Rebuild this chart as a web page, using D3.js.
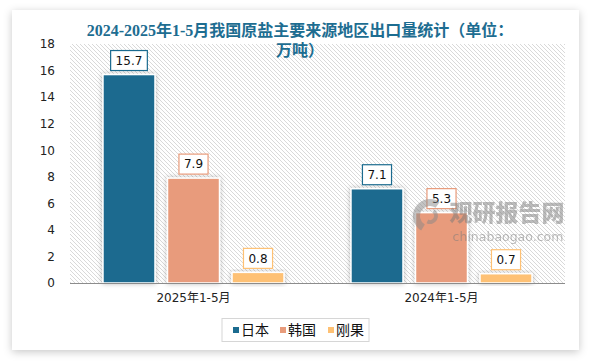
<!DOCTYPE html>
<html>
<head>
<meta charset="utf-8">
<script src="https://cdn.jsdelivr.net/npm/d3@7/dist/d3.min.js"></script>
<style>
  html, body { margin: 0; padding: 0; background: #ffffff; }
  svg { display: block; }
</style>
</head>
<body>
<div id="chart"></div>
<script>
"use strict";

const TITLE_LINES = ["2024-2025年1-5月我国原盐主要来源地区出口量统计（单位：", "万吨）"];
const PERIODS = ["2025年1-5月", "2024年1-5月"];
const SERIES = ["日本", "韩国", "刚果"];
const SERIES_COLORS = ["#1b6b8f", "#e89b7b", "#fec174"];
const JAPAN = [15.7, 7.1];
const KOREA = [7.9, 5.3];
const CONGO = [0.8, 0.7];
const Y_TICKS = [0, 2, 4, 6, 8, 10, 12, 14, 16, 18];

const W = 590, H = 361;
const plot = { left: 70, right: 565, top: 44, bottom: 283 };

const values = [JAPAN, KOREA, CONGO];
const rows = [];
PERIODS.forEach(function eachPeriod(period, pi) {
  SERIES.forEach(function eachSeries(name, si) {
    rows.push({ period: period, series: name, value: values[si][pi], color: SERIES_COLORS[si] });
  });
});

const svg = d3.select("#chart").append("svg").attr("width", W).attr("height", H);
const defs = svg.append("defs");

const cardShadow = defs.append("filter").attr("id", "cardShadow").attr("x", "-10%").attr("y", "-10%").attr("width", "120%").attr("height", "120%");
cardShadow.append("feDropShadow").attr("dx", 0).attr("dy", 2).attr("stdDeviation", 4).attr("flood-color", "#000").attr("flood-opacity", 0.22);

const barShadow = defs.append("filter").attr("id", "barShadow").attr("x", "-30%").attr("y", "-30%").attr("width", "160%").attr("height", "160%");
barShadow.append("feDropShadow").attr("dx", 0).attr("dy", 0).attr("stdDeviation", 2.5).attr("flood-color", "#000").attr("flood-opacity", 0.28);

const hatch = defs.append("pattern").attr("id", "hatch").attr("patternUnits", "userSpaceOnUse").attr("width", 4).attr("height", 4);
hatch.append("rect").attr("width", 4).attr("height", 4).attr("fill", "#ffffff");
hatch.append("path").attr("d", "M-1,-1 L5,5 M-1,3 L1,5 M3,-1 L5,1").attr("stroke", "#d9d9d9").attr("stroke-width", 1);

// card
svg.append("rect").attr("x", 12).attr("y", 10).attr("width", 567).attr("height", 340).attr("fill", "#ffffff").attr("filter", "url(#cardShadow)");

// scales
const x0 = d3.scaleBand().domain(PERIODS).range([plot.left, plot.right]).paddingInner(0.27).paddingOuter(0.133);
const x1 = d3.scaleBand().domain(SERIES).range([0, x0.bandwidth()]).paddingInner(0.194).paddingOuter(0);
const y = d3.scaleLinear().domain([0, 18]).range([plot.bottom, plot.top]);

// plot background
svg.append("rect").attr("x", plot.left).attr("y", plot.top).attr("width", plot.right - plot.left).attr("height", plot.bottom - plot.top).attr("fill", "url(#hatch)");

// y axis
const yAxis = svg.append("g").attr("transform", "translate(" + (plot.left - 15) + ",0)").call(d3.axisLeft(y).tickValues(Y_TICKS).tickSize(0).tickPadding(0));
yAxis.select(".domain").remove();
yAxis.selectAll("text").attr("font-family", "Tahoma, 'DejaVu Sans', sans-serif").attr("font-size", 12).attr("fill", "#222");

// bars
const groups = svg.append("g").selectAll("g").data(PERIODS).join("g").attr("transform", function gx(p) { return "translate(" + x0(p) + ",0)"; });
groups.selectAll("rect").data(function periodRows(p) { return rows.filter(function f(r) { return r.period === p; }); }).join("rect")
  .attr("x", function bx(d) { return x1(d.series); })
  .attr("y", function by(d) { return y(d.value); })
  .attr("width", x1.bandwidth())
  .attr("height", function bh(d) { return y(0) - y(d.value); })
  .attr("fill", function bf(d) { return d.color; })
  .attr("stroke", "#ffffff").attr("stroke-width", 1.5)
  .attr("filter", "url(#barShadow)");

// x axis
svg.append("line").attr("x1", plot.left).attr("x2", plot.right).attr("y1", plot.bottom + 0.5).attr("y2", plot.bottom + 0.5).attr("stroke", "#8c8c8c").attr("stroke-width", 1);
const xAxis = svg.append("g").attr("transform", "translate(0," + plot.bottom + ")").call(d3.axisBottom(x0).tickSize(0).tickPadding(10));
xAxis.select(".domain").remove();
xAxis.selectAll("text").attr("font-family", "Tahoma, 'DejaVu Sans', 'Noto Sans CJK SC', sans-serif").attr("font-size", 12).attr("fill", "#222");

// watermark (semi-transparent, over the bars)
const wm = svg.append("g").attr("opacity", 0.5);
wm.append("path").attr("d", d3.arc()({ innerRadius: 10, outerRadius: 17, startAngle: -2.6, endAngle: 0.6 })).attr("transform", "translate(430,216)").attr("fill", "#888888");
wm.append("path").attr("d", d3.arc()({ innerRadius: 4, outerRadius: 8, startAngle: 0.6, endAngle: 3.6 })).attr("transform", "translate(430,216)").attr("fill", "#888888");
wm.append("text").attr("x", 507).attr("y", 221).attr("text-anchor", "middle").attr("font-family", "'Noto Sans CJK SC', sans-serif").attr("font-weight", "900").attr("font-size", 23).attr("fill", "#7a7a7a").text("观研报告网");
wm.append("text").attr("x", 508).attr("y", 241).attr("text-anchor", "middle").attr("font-family", "'DejaVu Sans', sans-serif").attr("font-size", 12.5).attr("fill", "#7a7a7a").text("chinabaogao.com");

// value labels
const labels = groups.selectAll("g.lbl").data(function periodRows(p) { return rows.filter(function f(r) { return r.period === p; }); }).join("g").attr("class", "lbl")
  .attr("transform", function lt(d) { return "translate(" + (x1(d.series) + x1.bandwidth() / 2) + "," + (y(d.value) - 14) + ")"; });
labels.append("rect").attr("fill", "#ffffff").attr("stroke", function ls(d) { return d.color; }).attr("stroke-width", 1.2);
labels.append("text").attr("text-anchor", "middle").attr("dy", "0.36em").attr("font-family", "Tahoma, 'DejaVu Sans', sans-serif").attr("font-size", 12).attr("fill", "#111").text(function lt(d) { return d.value.toFixed(1); });
labels.each(function size() {
  const g = d3.select(this);
  const bb = g.select("text").node().getBBox();
  g.select("rect").attr("x", -bb.width / 2 - 5).attr("y", -10).attr("width", bb.width + 10).attr("height", 20);
});

// title (on top of the plot background)
const title = svg.append("text").attr("text-anchor", "middle").attr("font-family", "'Liberation Serif', 'Noto Sans CJK SC', serif").attr("font-weight", "bold").attr("font-size", 16).attr("fill", "#1d6d91");
TITLE_LINES.forEach(function addLine(line, i) {
  title.append("tspan").attr("x", 300).attr("y", 36 + i * 20).text(line);
});

// legend
svg.append("rect").attr("x", 222).attr("y", 318.5).attr("width", 147).attr("height", 23).attr("fill", "#ffffff").attr("stroke", "#d6d6d6").attr("stroke-width", 1);
const legendX = [233, 280, 328];
const legend = svg.append("g").selectAll("g").data(SERIES).join("g").attr("transform", function lgx(d, i) { return "translate(" + legendX[i] + ",330)"; });
legend.append("rect").attr("x", 0).attr("y", -3).attr("width", 6).attr("height", 6).attr("fill", function lc(d, i) { return SERIES_COLORS[i]; });
legend.append("text").attr("x", 8).attr("dy", "0.36em").attr("font-family", "'Noto Sans CJK SC', sans-serif").attr("font-size", 14).attr("fill", "#111").text(function lt(d) { return d; });
</script>
</body>
</html>
